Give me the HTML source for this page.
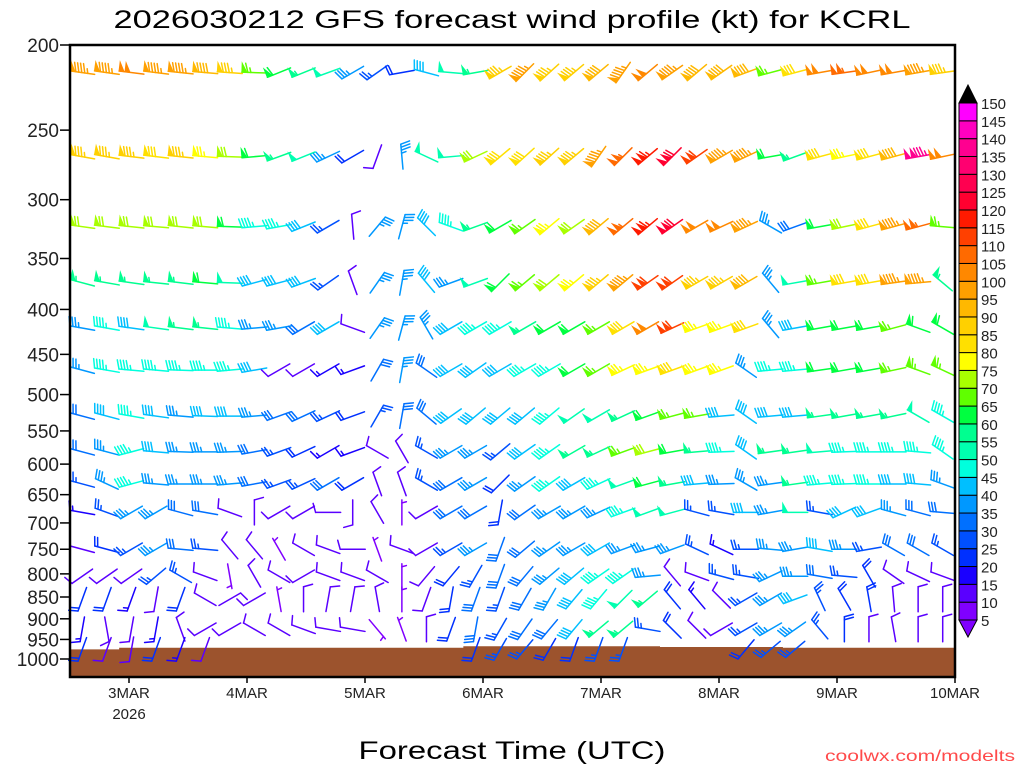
<!DOCTYPE html>
<html><head><meta charset="utf-8"><style>
html,body{margin:0;padding:0;background:#fff;}
svg{display:block;font-family:"Liberation Sans",sans-serif;}
</style></head>
<body>
<svg id="chart" width="1024" height="768" viewBox="0 0 1024 768" xmlns="http://www.w3.org/2000/svg">
<rect x="0" y="0" width="1024" height="768" fill="#fff"/>
<text x="512" y="28" text-anchor="middle" font-size="25" textLength="797" lengthAdjust="spacingAndGlyphs" fill="#000">2026030212 GFS forecast wind profile (kt) for KCRL</text>
<g id="ground"></g>
<g id="barbs"></g>
<rect x="70" y="45" width="885" height="632" fill="none" stroke="#000" stroke-width="2.5"/>
<g id="yaxis"></g>
<g id="xaxis"></g>
<g id="cbar"></g>
<text x="512" y="759" text-anchor="middle" font-size="25" textLength="307" lengthAdjust="spacingAndGlyphs" fill="#000">Forecast Time (UTC)</text>
<text x="1015" y="761" text-anchor="end" font-size="16" textLength="190" lengthAdjust="spacingAndGlyphs" fill="#ff4a4a">coolwx.com/modelts</text>
</svg>
<script>
const hours=[2.5,7.5,12.5,17.5,22.5,27.5,32.5,37.5,42.5,47.5,52.5,57.5,62.5,67.5,72.5,77.5,82.5,87.5,92.5,97.5,102.5,107.5,112.5,117.5,122.5,127.5,132.5,137.5,142.5,147.5,152.5,157.5,162.5,167.5,172.5,177.5];
const levels=[215,268,322,373,420,469,529,581,632,681,750,805,855,925,975];
const yTicks=[200,250,300,350,400,450,500,550,600,650,700,750,800,850,900,950,1000];
const xTickHours=[12,36,60,84,108,132,156,180];
const xTickLabels=["3MAR","4MAR","5MAR","6MAR","7MAR","8MAR","9MAR","10MAR"];
const cbarLabels=[5,10,15,20,25,30,35,40,45,50,55,60,65,70,75,80,85,90,95,100,105,110,115,120,125,130,135,140,145,150];
const cbarColors=["#8000ff","#5a00ff","#1a00ff","#0030ff","#0050ff","#0070ff","#0098ff","#00bfff","#00ffdd","#00ffb0","#00ff90","#00ff40","#60ff00","#a8ff00","#ffff00","#ffe000","#ffd000","#ffb800","#ffa000","#ff8800","#ff6a00","#ff4000","#ff1a00","#ff0030","#ff0050","#ff0070","#ff0090","#ff00c0","#ff00ff"];
const sfcPres=[975,975,971,971,971,971,971,971,971,971,971,971,971,971,971,971,967,967,967,967,967,967,967,967,969,969,969,969,969,971,971,971,971,971,971,971];
const spd215=[95,95,100,95,95,90,85,65,60,55,50,35,25,20,40,50,55,85,95,85,85,90,95,100,95,90,90,90,65,80,100,105,100,100,95,85];
const dir215=[278,278,277,277,276,275,274,272,248,248,250,240,235,260,285,275,260,240,225,228,230,230,215,230,235,230,235,250,255,255,260,262,258,260,260,262];
const spd268=[85,85,85,80,85,75,70,60,55,50,35,20,10,35,50,50,70,80,80,85,85,95,105,115,120,110,95,95,60,55,80,75,80,90,135,100];
const dir268=[280,280,277,277,276,275,272,265,250,248,245,240,200,355,295,265,245,230,228,228,230,215,225,230,225,235,240,245,260,250,255,258,255,255,260,258];
const spd322=[70,70,70,70,70,70,60,45,45,40,25,10,35,35,40,45,55,60,65,75,70,90,105,115,120,100,100,95,35,30,60,70,80,95,105,65];
const dir322=[278,277,276,275,276,275,272,265,260,248,240,355,40,15,315,290,250,240,235,230,235,230,230,230,235,240,245,245,300,250,260,258,255,255,255,275];
const spd373=[55,55,55,55,55,60,50,40,40,40,25,10,35,35,40,35,50,60,65,70,75,85,95,110,110,85,85,90,35,50,65,80,80,95,95,55];
const dir373=[285,280,278,276,277,275,272,255,255,250,235,340,35,10,320,250,250,225,230,230,230,230,230,235,235,240,240,240,320,260,260,260,260,262,265,310];
const spd420=[35,45,40,50,55,55,45,35,35,30,40,10,35,35,35,40,45,45,55,60,60,65,80,100,110,75,75,80,35,40,60,60,60,65,60,60];
const dir420=[280,280,278,278,277,276,275,265,260,240,240,290,35,15,330,240,240,240,240,240,240,240,240,240,245,250,250,250,320,260,260,260,260,255,290,300];
const spd469=[35,45,45,45,45,45,45,40,10,10,15,15,30,35,30,40,40,40,45,45,60,65,75,75,80,75,75,35,45,45,60,60,60,65,65,65];
const dir469=[285,280,275,275,272,270,265,260,240,240,240,250,30,10,305,240,235,240,240,240,240,240,245,250,250,250,250,305,265,265,262,260,260,258,290,295];
const spd529=[30,40,45,40,35,40,40,35,30,30,25,20,25,30,30,40,40,40,40,45,50,50,55,60,65,65,40,40,40,40,55,55,55,55,50,45];
const dir529=[285,285,280,278,275,272,270,265,250,245,245,250,30,10,310,235,230,230,230,230,235,240,245,250,255,260,265,305,265,265,262,260,260,258,300,300];
const spd581=[30,35,45,40,35,35,35,30,25,20,15,15,10,10,25,35,35,25,40,45,55,55,65,70,60,55,45,40,55,55,50,45,45,45,45,45];
const dir581=[285,285,255,275,272,270,268,260,250,245,240,250,300,330,300,240,240,230,235,235,240,245,250,255,260,265,268,305,262,262,265,268,270,270,275,305];
const spd632=[25,35,45,35,35,35,35,30,25,25,30,20,10,10,25,30,35,20,35,45,40,45,50,60,55,40,35,35,35,55,45,45,45,40,40,35];
const dir632=[285,295,255,275,270,270,265,260,250,245,240,240,340,340,300,240,240,225,235,235,240,245,250,255,260,265,268,300,262,262,265,268,270,270,275,290];
const spd681=[15,25,35,35,30,30,10,10,10,10,10,10,10,5,10,30,30,20,30,35,35,35,45,50,50,25,25,40,35,50,25,40,40,35,30,30];
const dir681=[280,290,240,240,285,280,290,0,240,240,270,180,330,0,240,240,240,190,235,240,240,245,250,250,255,285,280,270,260,270,280,245,250,285,285,275];
const spd750=[10,20,25,35,30,25,10,10,5,10,10,10,5,10,10,25,35,30,30,35,35,40,35,35,35,25,15,25,35,35,40,35,25,30,30,25];
const dir750=[285,285,240,240,275,275,320,320,330,300,290,270,340,290,240,240,240,200,230,235,240,240,250,255,250,295,295,270,275,260,280,270,260,300,300,300];
const spd805=[10,10,10,25,25,10,5,10,10,10,10,10,10,5,10,20,25,30,30,35,40,45,45,35,10,10,25,25,35,35,30,25,20,10,10,10];
const dir805=[235,235,235,230,300,290,170,330,300,240,290,290,300,0,220,220,210,200,220,230,230,235,235,265,320,290,285,280,245,270,280,275,330,305,295,290];
const spd855=[20,20,15,10,20,10,10,10,5,10,10,10,10,5,10,20,30,25,30,35,40,45,50,55,20,15,10,25,35,40,25,20,20,10,10,10];
const dir855=[200,200,200,190,200,300,60,240,350,0,10,10,350,0,200,190,200,200,210,210,220,220,225,230,320,320,315,240,240,250,335,330,350,355,0,0];
const spd925=[15,10,10,15,10,10,10,10,10,10,10,10,5,5,10,20,30,25,30,30,40,55,55,25,20,10,10,25,35,35,25,20,10,10,10,10];
const dir925=[190,170,190,190,340,240,240,300,300,290,280,280,140,340,0,200,190,210,215,220,220,230,230,280,315,315,240,240,240,235,320,0,0,350,0,0];
const spd975=[20,10,10,20,15,10,null,null,null,null,null,null,null,null,null,null,20,25,25,20,20,25,25,null,null,null,null,20,25,25,null,null,null,null,null,null];
const dir975=[200,200,190,200,200,200,0,0,0,0,0,0,0,0,0,0,200,210,220,210,200,200,200,0,0,0,0,220,230,230,0,0,0,0,0,0];

const speeds=[spd215,spd268,spd322,spd373,spd420,spd469,spd529,spd581,spd632,spd681,spd750,spd805,spd855,spd925,spd975];
const dirs=[dir215,dir268,dir322,dir373,dir420,dir469,dir529,dir581,dir632,dir681,dir750,dir805,dir855,dir925,dir975];

const NS="http://www.w3.org/2000/svg";
const X0=70,X1=955,Y0=45,Y1=677;
function xScale(h){return X0+h*(X1-X0)/180;}
function yScale(p){return Y0+Math.log(p/200)/Math.log(5)*614;}
function colorFor(s){let i=Math.floor((s-5)/5);if(i<0)i=0;if(i>cbarColors.length-1)i=cbarColors.length-1;return cbarColors[i];}
function mk(tag,attrs,parent){const e=document.createElementNS(NS,tag);for(const k in attrs)e.setAttribute(k,attrs[k]);parent.appendChild(e);return e;}

// ground
const gG=document.getElementById('ground');
let gd="M"+X0+","+Y1;
for(let i=0;i<hours.length;i++){
  const xa=i===0?X0:(xScale(hours[i-1])+xScale(hours[i]))/2;
  const xb=i===hours.length-1?X1:(xScale(hours[i])+xScale(hours[i+1]))/2;
  const y=yScale(sfcPres[i]);
  gd+=" L"+xa+","+y+" L"+xb+","+y;
}
gd+=" L"+X1+","+Y1+" Z";
const gp=mk('path',{d:gd,fill:'#9c532d'},gG);



// barbs (centered on station point)
const bG=document.getElementById('barbs');
const L=25;
for(let r=0;r<levels.length;r++){
  for(let c=0;c<hours.length;c++){
    const s=speeds[r][c];
    if(s===null||s<5)continue;
    const d=dirs[r][c]*Math.PI/180;
    const cx0=xScale(hours[c]), cy0=yScale(levels[r]);
    const ux=Math.sin(d), uy=-Math.cos(d);
    const px=-uy, py=ux;
    const sx=cx0-ux*L/2, sy=cy0-uy*L/2;
    const tx=cx0+ux*L/2, ty=cy0+uy*L/2;
    const col=colorFor(s);
    const g=mk('g',{stroke:col,fill:col,'stroke-width':1.5,'stroke-linecap':'round'},bG);
    
    
    mk('line',{x1:sx,y1:sy,x2:tx,y2:ty},g);
    let rs=Math.round(s/5)*5;
    const pen=Math.floor(rs/50); rs-=pen*50;
    const full=Math.floor(rs/10); rs-=full*10;
    const half=rs>=5;
    let pos=0;
    const pt=(t)=>[tx-ux*t,ty-uy*t];
    for(let k=0;k<pen;k++){
      const a=pt(pos),b=pt(pos+5);
      mk('polygon',{points:a[0]+","+a[1]+" "+(a[0]+px*9)+","+(a[1]+py*9)+" "+b[0]+","+b[1],'stroke-width':1},g);
      pos+=6;
    }
    for(let k=0;k<full;k++){
      const a=pt(pos);
      mk('line',{x1:a[0],y1:a[1],x2:a[0]+px*9+ux*2.5,y2:a[1]+py*9+uy*2.5},g);
      pos+=3;
    }
    if(half){
      if(pos===0)pos=3;
      const a=pt(pos);
      mk('line',{x1:a[0],y1:a[1],x2:a[0]+px*4.5+ux*1.2,y2:a[1]+py*4.5+uy*1.2},g);
    }
  }
}

// y axis
const yG=document.getElementById('yaxis');
yTicks.forEach(p=>{
  const y=yScale(p);
  const t=mk('line',{x1:60,y1:y,x2:X0,y2:y,stroke:'#000','stroke-width':1.5},yG);
  
  
  const tx=mk('text',{x:59,y:y+7,'text-anchor':'end','font-size':19,fill:'#222'},yG);
  
  
  tx.textContent=p;
});

// x axis
const xG=document.getElementById('xaxis');
xTickHours.forEach((h,i)=>{
  const x=xScale(h);
  const t=mk('line',{x1:x,y1:Y1,x2:x,y2:Y1+6,stroke:'#000','stroke-width':1.5},xG);
  
  
  const tx=mk('text',{x:x,y:698,'text-anchor':'middle','font-size':15,fill:'#222'},xG);
  
  
  tx.textContent=xTickLabels[i];
});
const yr=mk('text',{x:xScale(12),y:719,'text-anchor':'middle','font-size':15,fill:'#222'},xG);


yr.textContent="2026";

// colorbar
const cG=document.getElementById('cbar');
const cbx=959,cbw=18,cbTop=103,cbBot=620;
const bh=(cbBot-cbTop)/cbarColors.length;
cbarColors.forEach((c,i)=>{
  const y=cbBot-(i+1)*bh;
  const r=mk('rect',{x:cbx,y:y,width:cbw,height:bh,fill:c,stroke:'#000','stroke-width':1},cG);
  
  
});
const overArrow=mk('polygon',{points:cbx+","+cbTop+" "+(cbx+cbw/2)+",85 "+(cbx+cbw)+","+cbTop,fill:'#000',stroke:'#000'},cG);


const underArrow=mk('polygon',{points:cbx+","+cbBot+" "+(cbx+cbw/2)+",637 "+(cbx+cbw)+","+cbBot,fill:'#8000ff',stroke:'#000'},cG);


cbarLabels.forEach((v,i)=>{
  const y=cbBot-i*bh;
  const t=mk('text',{x:981,y:y+6,'font-size':15,fill:'#222'},cG);
  
  
  t.textContent=v;
});
</script>
</body></html>
